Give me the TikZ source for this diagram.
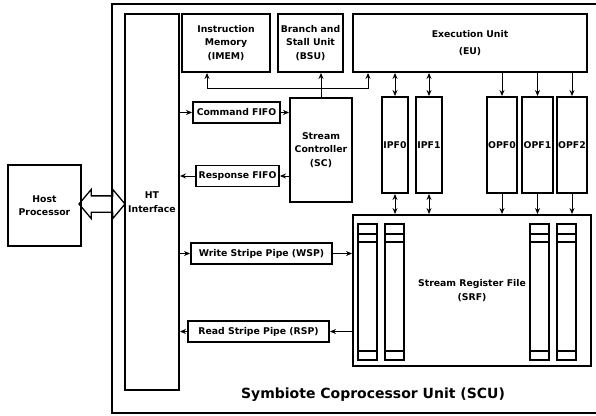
\documentclass[tikz,border=0pt]{standalone}
\usepackage{fontspec}
\setmainfont{DejaVu Sans}
\usetikzlibrary{arrows.meta,shapes.arrows}

\begin{document}
\begin{tikzpicture}[x=1pt,y=-1pt]

\tikzset{
  unitbox/.style={
    draw,
    line width=1.9pt,
    align=center,
    inner sep=1pt,
    font=\bfseries\fontsize{9.3}{13.5}\selectfont
  },
  fifobox/.style={
    unitbox,
    minimum height=21pt
  },
  fifocol/.style={
    unitbox,
    minimum height=96pt,
    inner sep=0pt
  },
  link/.style={
    line width=1pt,
    -{Stealth[length=6pt,width=5pt]}
  },
  duplex/.style={
    line width=1pt,
    {Stealth[length=6pt,width=5pt]}-{Stealth[length=6pt,width=5pt]}
  },
  frame/.style={
    line width=1.9pt
  },
  srfcol/.style={
    line width=1.7pt
  }
}

\useasboundingbox (0,0) rectangle (596,415);

%%%%%%%%%%%%%%%%%%%%%%%%%%%%%%%%%%%%%%%%%%%%%%%%%%%%%%%%%%%%
%% Host side
%%%%%%%%%%%%%%%%%%%%%%%%%%%%%%%%%%%%%%%%%%%%%%%%%%%%%%%%%%%%

% Wide link, drawn first so the frame lines run over it
\node[
  double arrow,
  draw,
  fill=white,
  line width=1.3pt,
  inner sep=7.5pt,
  minimum height=46pt,
  double arrow head extend=6.5pt,
  double arrow tip angle=100
] (hostlink) at (102,204) {};

\node[unitbox, minimum width=73pt, minimum height=81pt]
  (host) at (44.5,205.5) {Host\\Processor};

% Outer frame of the SCU
\draw[frame] (112,4) rectangle (601,413);

\node[font=\bfseries\fontsize{14}{16}\selectfont]
  (scutitle) at (373,395) {Symbiote Coprocessor Unit (SCU)};

%%%%%%%%%%%%%%%%%%%%%%%%%%%%%%%%%%%%%%%%%%%%%%%%%%%%%%%%%%%%
%% Units
%%%%%%%%%%%%%%%%%%%%%%%%%%%%%%%%%%%%%%%%%%%%%%%%%%%%%%%%%%%%

\node[unitbox, minimum width=54pt, minimum height=376pt]
  (ht) at (152,202) {HT\\Interface};

\node[unitbox, minimum width=88pt, minimum height=58pt]
  (imem) at (226,43) {Instruction\\Memory\\(IMEM)};
\node[unitbox, minimum width=65pt, minimum height=58pt]
  (bsu) at (310.5,43) {Branch and\\Stall Unit\\(BSU)};
\node[unitbox, minimum width=234pt, minimum height=58pt]
  (eu) at (470,43) {Execution Unit\\[3pt](EU)};

\node[fifobox, minimum width=87pt]
  (cmd) at (236.5,112.5) {Command FIFO};
\node[fifobox, minimum width=83pt]
  (resp) at (237.5,176) {Response FIFO};
\node[unitbox, minimum width=62pt, minimum height=104pt]
  (sc) at (321,150) {Stream\\Controller\\(SC)};

% Input and output FIFOs of the EU
\node[fifocol, minimum width=26pt] (ipf0) at (395,145) {IPF0};
\node[fifocol, minimum width=26pt] (ipf1) at (429,145) {IPF1};
\node[fifocol, minimum width=30pt] (opf0) at (502,145) {OPF0};
\node[fifocol, minimum width=31pt] (opf1) at (537.5,145) {OPF1};
\node[fifocol, minimum width=30pt] (opf2) at (572,145) {OPF2};

\node[unitbox, minimum width=238pt, minimum height=151pt]
  (srf) at (472,290.5) {Stream Register File\\(SRF)};

\node[fifobox, minimum width=141pt]
  (wsp) at (261.5,253.5) {Write Stripe Pipe (WSP)};
\node[fifobox, minimum width=141pt]
  (rsp) at (258.5,331.5) {Read Stripe Pipe (RSP)};

% Register columns inside the SRF
\foreach \cx in {358,385,530,557}{
  \draw[srfcol] (\cx,224) rectangle ++(19,136);
  \draw[srfcol] (\cx,234) -- ++(19,0);
  \draw[srfcol] (\cx,242) -- ++(19,0);
  \draw[srfcol] (\cx,351) -- ++(19,0);
}

%%%%%%%%%%%%%%%%%%%%%%%%%%%%%%%%%%%%%%%%%%%%%%%%%%%%%%%%%%%%
%% Connections
%%%%%%%%%%%%%%%%%%%%%%%%%%%%%%%%%%%%%%%%%%%%%%%%%%%%%%%%%%%%

% Command and response path
\draw[link] (cmd.west -| ht.east) -- (cmd.west);
\draw[link] (cmd.east) -- (cmd.east -| sc.west);
\draw[link] (resp.east -| sc.west) -- (resp.east);
\draw[link] (resp.west) -- (resp.west -| ht.east);

% Stream controller to IMEM, BSU and EU
\coordinate (fbl) at (207,88);
\coordinate (fbr) at (368,88);
\draw[link] (sc.north) -- (sc.north |- bsu.south);
\draw[link] (fbl) -- (fbl |- imem.south);
\draw[link] (fbl) -- (fbr) -- (fbr |- eu.south);

% EU to the stream FIFOs
\foreach \F in {ipf0,ipf1}{
  \draw[duplex] (\F.north |- eu.south) -- (\F.north);
  \draw[duplex] (\F.south) -- (\F.south |- srf.north);
}
\foreach \F in {opf0,opf1,opf2}{
  \draw[link] (\F.north |- eu.south) -- (\F.north);
  \draw[link] (\F.south) -- (\F.south |- srf.north);
}

% Stripe pipes
\draw[link] (wsp.west -| ht.east) -- (wsp.west);
\draw[link] (wsp.east) -- (wsp.east -| srf.west);
\draw[link] (rsp.east -| srf.west) -- (rsp.east);
\draw[link] (rsp.west) -- (rsp.west -| ht.east);

\end{tikzpicture}
\end{document}
